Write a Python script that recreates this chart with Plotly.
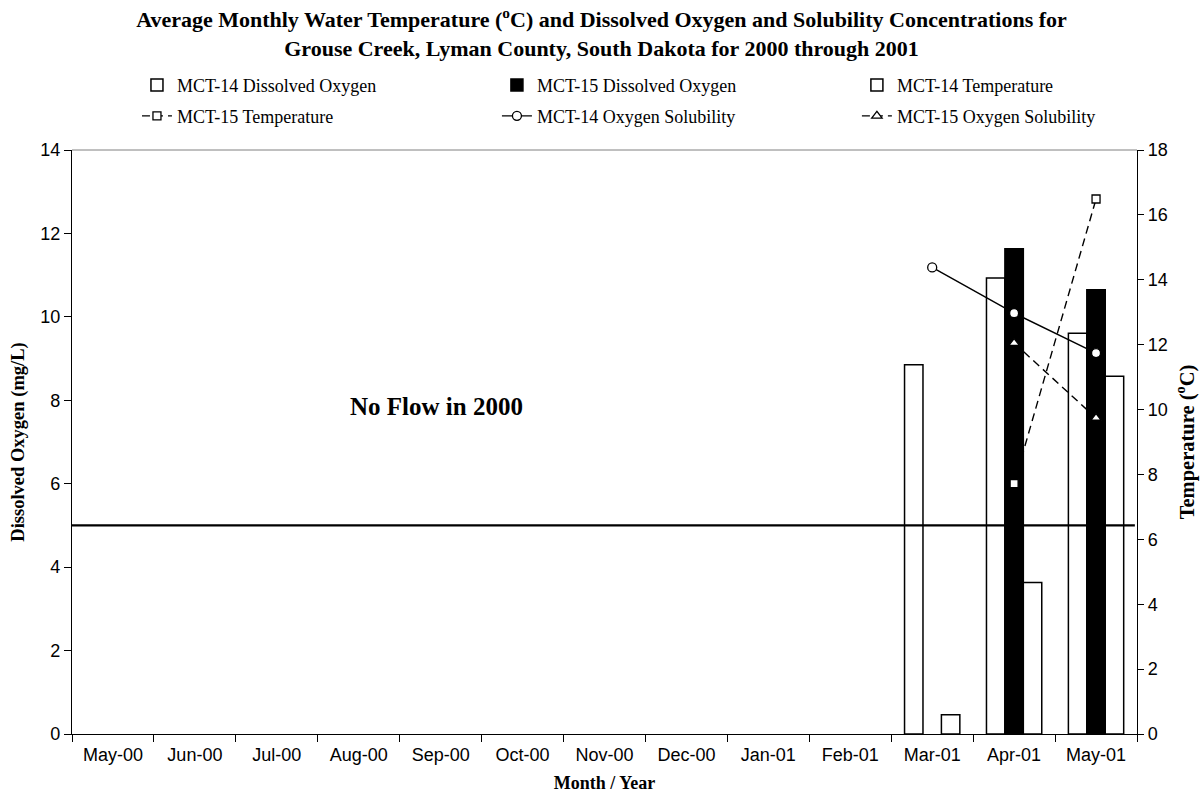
import plotly.graph_objects as go

# Monthly categories on the shared x axis
months = ["May-00", "Jun-00", "Jul-00", "Aug-00", "Sep-00", "Oct-00", "Nov-00",
          "Dec-00", "Jan-01", "Feb-01", "Mar-01", "Apr-01", "May-01"]

# Dissolved oxygen (mg/L), left axis
mct14_do = [None, None, None, None, None, None, None, None, None, None, 8.85, 10.93, 9.61]
mct15_do = [None, None, None, None, None, None, None, None, None, None, None, 11.63, 10.65]

# Water temperature (deg C), right axis
mct14_temp = [None, None, None, None, None, None, None, None, None, None, 0.59, 4.67, 11.03]
mct15_temp = [None, None, None, None, None, None, None, None, None, None, None, 7.72, 16.49]

# Oxygen solubility, plotted against the right axis scale
mct14_sol = [None, None, None, None, None, None, None, None, None, None, 14.38, 12.97, 11.74]
mct15_sol = [None, None, None, None, None, None, None, None, None, None, None, 12.05, 9.74]

do_standard = 5.0

SERIF = "Liberation Serif"
SANS = "Liberation Sans"
BAR_W = 0.225

fig = go.Figure()

fig.add_trace(go.Bar(
    x=months, y=mct14_do, name="MCT-14 Dissolved Oxygen", yaxis="y",
    width=BAR_W, offset=-1.5 * BAR_W,
    marker=dict(color="white", line=dict(color="black", width=1.5)),
    legend="legend"))
fig.add_trace(go.Bar(
    x=months, y=mct15_do, name="MCT-15 Dissolved Oxygen", yaxis="y",
    width=BAR_W, offset=-0.5 * BAR_W,
    marker=dict(color="black", line=dict(color="black", width=1.5)),
    legend="legend2"))
fig.add_trace(go.Bar(
    x=months, y=mct14_temp, name="MCT-14 Temperature", yaxis="y2",
    width=BAR_W, offset=0.5 * BAR_W,
    marker=dict(color="white", line=dict(color="black", width=1.5)),
    legend="legend3"))

fig.add_trace(go.Scatter(
    x=months, y=mct15_temp, name="MCT-15 Temperature", yaxis="y2",
    mode="lines+markers",
    line=dict(color="black", width=1.4, dash="8px,5px"),
    marker=dict(symbol="square", size=8, color="white", line=dict(color="black", width=1.3)),
    legend="legend4"))
fig.add_trace(go.Scatter(
    x=months, y=mct14_sol, name="MCT-14 Oxygen Solubility", yaxis="y2",
    mode="lines+markers",
    line=dict(color="black", width=1.4),
    marker=dict(symbol="circle", size=9, color="white", line=dict(color="black", width=1.3)),
    legend="legend5"))
fig.add_trace(go.Scatter(
    x=months, y=mct15_sol, name="MCT-15 Oxygen Solubility", yaxis="y2",
    mode="lines+markers",
    line=dict(color="black", width=1.4, dash="8px,5px"),
    marker=dict(symbol="triangle-up", size=9, color="white", line=dict(color="black", width=1.3)),
    legend="legend6"))

# one legend box per entry so the 3 x 2 grid lines up
legend_font = dict(family=SERIF, size=18, color="black")
def legend_box(x, y):
    return dict(x=x, y=y, xanchor="left", yanchor="middle", orientation="h",
                font=legend_font, bgcolor="rgba(0,0,0,0)", borderwidth=0)

row1, row2 = 1.111, 1.058
cols = [0.061, 0.399, 0.737]

fig.update_layout(
    width=1203, height=801,
    margin=dict(l=72, r=66, t=150, b=67),
    paper_bgcolor="white", plot_bgcolor="white",
    barmode="overlay",
    showlegend=True,
    title=dict(
        text="<b>Average Monthly Water Temperature (<sup>o</sup>C) and Dissolved Oxygen and Solubility Concentrations for"
             "<br>Grouse Creek, Lyman County, South Dakota for 2000 through 2001</b>",
        x=0.5, xref="container", xanchor="center",
        y=0.966, yref="container", yanchor="top",
        font=dict(family=SERIF, size=22, color="black")),
    legend=legend_box(cols[0], row1),
    legend2=legend_box(cols[1], row1),
    legend3=legend_box(cols[2], row1),
    legend4=legend_box(cols[0], row2),
    legend5=legend_box(cols[1], row2),
    legend6=legend_box(cols[2], row2),
    xaxis=dict(
        type="category", categoryorder="array", categoryarray=months,
        range=[-0.5, 12.5], tickson="boundaries", automargin=False,
        ticks="outside", ticklen=7, tickcolor="black", tickwidth=1.3,
        showline=True, linecolor="black", linewidth=1.3,
        showgrid=False, zeroline=False, ticklabelstandoff=4,
        tickfont=dict(family=SANS, size=18, color="black"),
        title=dict(text="<b>Month / Year</b>", standoff=12,
                   font=dict(family=SERIF, size=18, color="black"))),
    yaxis=dict(
        range=[0, 14], dtick=2, tick0=0, automargin=False,
        ticks="outside", ticklen=7, tickcolor="black", tickwidth=1.3,
        showline=True, linecolor="black", linewidth=1.3,
        showgrid=False, zeroline=False,
        tickfont=dict(family=SANS, size=18, color="black"),
        title=dict(text="<b>Dissolved Oxygen (mg/L)</b>", standoff=10,
                   font=dict(family=SERIF, size=18.5, color="black"))),
    yaxis2=dict(
        overlaying="y", side="right",
        range=[0, 18], dtick=2, tick0=0, automargin=False,
        ticks="outside", ticklen=6, tickcolor="black", tickwidth=1.3,
        showline=True, linecolor="black", linewidth=1.3,
        showgrid=False, zeroline=False,
        tickfont=dict(family=SANS, size=18, color="black"),
        title=dict(text="<b>Temperature (<sup>o</sup>C)</b>", standoff=12,
                   font=dict(family=SERIF, size=20.5, color="black"))),
    shapes=[
        # thin frame along the top of the plot area
        dict(type="line", xref="paper", yref="paper", x0=0, x1=1, y0=1, y1=1,
             line=dict(color="#808080", width=1)),
        # dissolved oxygen standard
        dict(type="line", xref="paper", yref="y", x0=0, x1=0.998,
             y0=do_standard, y1=do_standard, line=dict(color="black", width=2.3)),
    ],
    annotations=[
        dict(text="<b>No Flow in 2000</b>", xref="paper", yref="paper",
             x=0.342, y=0.56, showarrow=False,
             font=dict(family=SERIF, size=25, color="black")),
    ],
)

fig.write_html("out.html")
